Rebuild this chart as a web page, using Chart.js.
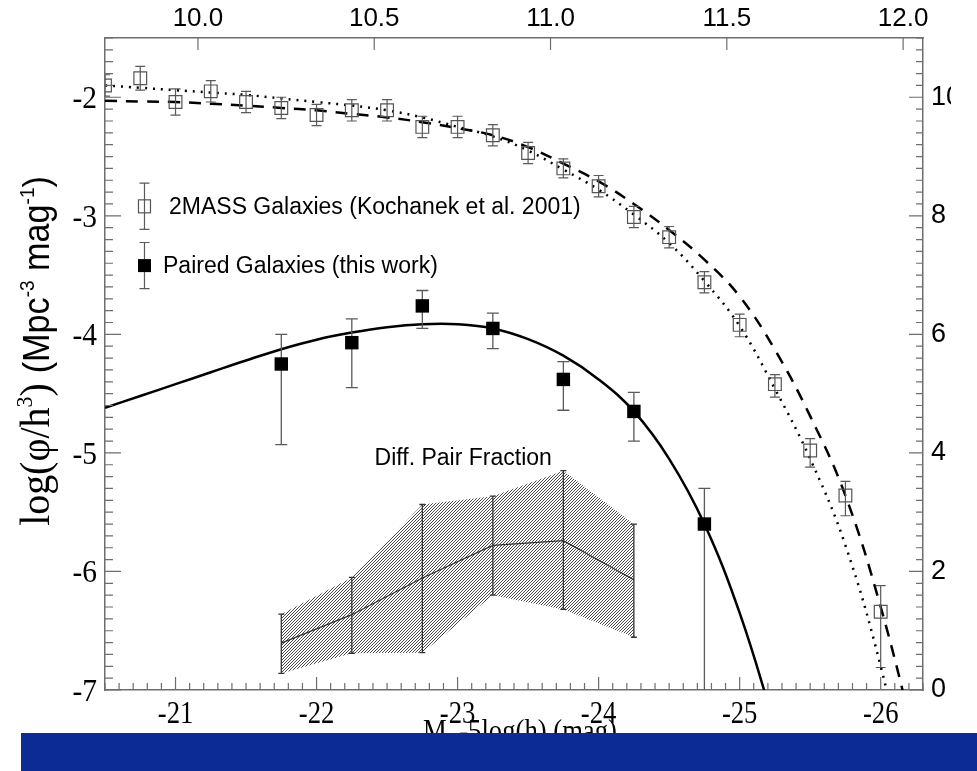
<!DOCTYPE html>
<html>
<head>
<meta charset="utf-8">
<script src="https://cdn.jsdelivr.net/npm/chart.js@4.4.0/dist/chart.umd.min.js"></script>
<style>
  html, body { margin: 0; padding: 0; background: #fff; }
  #wrap { position: absolute; left: 0; top: 0; width: 951px; height: 733px; }
  #band { position: absolute; left: 21px; top: 733px; width: 956px; height: 38px; background: #0d2b95; }
</style>
</head>
<body>
<div id="wrap"><canvas id="lf"></canvas></div>
<div id="band"></div>
<script>
// K-band luminosity function of 2MASS galaxies (Kochanek et al. 2001)
const kMags = [-20.5, -20.75, -21.0, -21.25, -21.5, -21.75, -22.0, -22.25, -22.5, -22.75, -23.0, -23.25,
  -23.5, -23.75, -24.0, -24.25, -24.5, -24.75, -25.0, -25.25, -25.5, -25.75, -26.0];
const kPhi = [-1.90, -1.84, -2.04, -1.95, -2.04, -2.09, -2.15, -2.11, -2.11, -2.25, -2.25, -2.32,
  -2.47, -2.60, -2.75, -3.01, -3.18, -3.56, -3.92, -4.42, -4.98, -5.36, -6.34];
const kErrUp = [0.09, 0.10, 0.11, 0.09, 0.09, 0.09, 0.09, 0.09, 0.09, 0.09, 0.09, 0.09,
  0.09, 0.08, 0.09, 0.09, 0.09, 0.09, 0.09, 0.08, 0.10, 0.12, 0.22];
const kErrDown = [0.09, 0.10, 0.11, 0.09, 0.09, 0.09, 0.09, 0.09, 0.09, 0.09, 0.09, 0.09,
  0.09, 0.08, 0.09, 0.09, 0.09, 0.09, 0.10, 0.11, 0.14, 0.17, 0.47];

// paired galaxies
const pairMags = [-21.75, -22.25, -22.75, -23.25, -23.75, -24.25, -24.75];
const pairPhi = [-4.25, -4.07, -3.76, -3.95, -4.38, -4.65, -5.60];
const pairErrUp = [0.25, 0.20, 0.13, 0.13, 0.15, 0.16, 0.30];
const pairErrDown = [0.68, 0.38, 0.19, 0.17, 0.26, 0.25, 1.60];

// Schechter fits, sampled every 0.25 mag
const fitMags = [-20.5, -20.75, -21.0, -21.25, -21.5, -21.75, -22.0, -22.25, -22.5, -22.75, -23.0, -23.25,
  -23.5, -23.75, -24.0, -24.25, -24.5, -24.75, -25.0, -25.25, -25.5, -25.75, -26.0, -26.25];
const fitDotted = [-1.90, -1.92, -1.94, -1.96, -1.98, -2.01, -2.04, -2.07, -2.11, -2.17, -2.25, -2.33,
  -2.45, -2.61, -2.78, -2.99, -3.23, -3.55, -3.93, -4.46, -5.05, -5.78, -6.80, -8.10];
const fitDashed = [-2.03, -2.035, -2.04, -2.055, -2.07, -2.09, -2.11, -2.14, -2.17, -2.21, -2.26, -2.32,
  -2.42, -2.56, -2.71, -2.90, -3.12, -3.37, -3.68, -4.13, -4.69, -5.36, -6.30, -7.45];
const pairFitMags = [-20.5, -20.75, -21.0, -21.25, -21.5, -21.75, -22.0, -22.25, -22.5, -22.75, -23.0,
  -23.25, -23.5, -23.75, -24.0, -24.25, -24.5, -24.75, -25.0, -25.25];
const pairFit = [-4.62, -4.52, -4.42, -4.32, -4.22, -4.125, -4.045, -3.985, -3.94, -3.915, -3.915,
  -3.95, -4.04, -4.18, -4.38, -4.65, -5.05, -5.60, -6.35, -7.30];

// differential pair fraction (%), right axis
const fracMags = [-21.75, -22.25, -22.75, -23.25, -23.75, -24.25];
const fracMid = [0.79, 1.27, 1.89, 2.44, 2.52, 1.86];
const fracHigh = [1.28, 1.90, 3.13, 3.27, 3.70, 2.80];
const fracLow = [0.28, 0.62, 0.63, 1.60, 1.36, 0.89];

// axis ticks
const magTicks = [-21, -22, -23, -24, -25, -26];
const phiTicks = [-7, -6, -5, -4, -3, -2];
const massTicks = [10.0, 10.5, 11.0, 11.5, 12.0];
const fracTicks = [0, 2, 4, 6, 8, 10];

const magMin = -26.3, magMax = -20.5;
const massZero = 1.5364;            // log M = massZero - 0.4 M_K
const frameColor = '#6e6e6e';
const serif = '"Liberation Serif", "DejaVu Serif", serif';
const sans = '"Liberation Sans", Arial, sans-serif';

const pts = (xs, ys) => xs.map((x, i) => ({x, y: ys[i]}));

function hatchPattern() {
  const c = document.createElement('canvas');
  c.width = 3; c.height = 3;
  const g = c.getContext('2d');
  g.strokeStyle = '#4a4a4a';
  g.lineWidth = 1;
  g.beginPath();
  g.moveTo(0, 3); g.lineTo(3, 0);
  g.moveTo(-1, 1); g.lineTo(1, -1);
  g.moveTo(2, 4); g.lineTo(4, 2);
  g.stroke();
  return g.createPattern(c, 'repeat');
}

// vertical bars drawn just under each dataset's own markers
const errorBars = {
  id: 'errorBars',
  beforeDatasetDraw(chart, args) {
    const ds = chart.data.datasets[args.index];
    if (!ds.errHi) return;
    const {ctx, chartArea: a} = chart;
    const ys = chart.scales[args.meta.yAxisID];
    ctx.save();
    ctx.beginPath();
    ctx.rect(a.left, a.top, a.right - a.left, a.bottom - a.top);
    ctx.clip();
    ctx.strokeStyle = ds.errColor;
    ctx.lineWidth = ds.errWidth;
    args.meta.data.forEach((p, j) => {
      const hi = ys.getPixelForValue(ds.errHi[j]);
      const lo = ys.getPixelForValue(ds.errLo[j]);
      ctx.beginPath();
      ctx.moveTo(p.x, hi); ctx.lineTo(p.x, lo);
      ctx.moveTo(p.x - ds.errCap, hi); ctx.lineTo(p.x + ds.errCap, hi);
      ctx.moveTo(p.x - ds.errCap, lo); ctx.lineTo(p.x + ds.errCap, lo);
      ctx.stroke();
    });
    ctx.restore();
  }
};

// inward tick marks on all four sides
const tickSpec = {
  x: {minor: 0.1, major: 1, short: 7, long: 13},
  y: {minor: 0.1, major: 1, short: 8, long: 16},
  xTop: {minor: 0.5, major: 0.5, short: 12, long: 12},
  yR: {minor: 0.2, major: 2, short: 7, long: 14}
};
const innerTicks = {
  id: 'innerTicks',
  afterDraw(chart) {
    const {ctx, chartArea: a} = chart;
    ctx.save();
    ctx.strokeStyle = frameColor;
    ctx.lineWidth = 1.2;
    for (const id in tickSpec) {
      const s = chart.scales[id], t = tickSpec[id];
      const n0 = Math.ceil(s.min / t.minor - 1e-6), n1 = Math.floor(s.max / t.minor + 1e-6);
      ctx.beginPath();
      for (let n = n0; n <= n1; n++) {
        const v = n * t.minor;
        const q = v / t.major;
        const len = Math.abs(q - Math.round(q)) < 1e-6 ? t.long : t.short;
        const px = s.getPixelForValue(v);
        if (id === 'x') { ctx.moveTo(px, a.bottom); ctx.lineTo(px, a.bottom - len); }
        if (id === 'xTop') { ctx.moveTo(px, a.top); ctx.lineTo(px, a.top + len); }
        if (id === 'y') { ctx.moveTo(a.left, px); ctx.lineTo(a.left + len, px); }
        if (id === 'yR') { ctx.moveTo(a.right, px); ctx.lineTo(a.right - len, px); }
      }
      ctx.stroke();
    }
    ctx.restore();
  }
};

// text runs with their own fonts, centred on cx; sx squeezes them horizontally
function drawRuns(ctx, runs, cx, y, sx = 1) {
  let total = 0;
  runs.forEach(r => { ctx.font = r.font; r.w = ctx.measureText(r.t).width; total += r.w; });
  ctx.save();
  ctx.translate(cx, y);
  ctx.scale(sx, 1);
  let x = -total / 2;
  runs.forEach(r => { ctx.font = r.font; ctx.fillText(r.t, x, r.dy || 0); x += r.w; });
  ctx.restore();
}

function squeezedText(ctx, t, x, y, sx, align) {
  ctx.save();
  ctx.translate(x, y);
  ctx.scale(sx, 1);
  ctx.textAlign = align;
  ctx.fillText(t, 0, 0);
  ctx.restore();
}

// Times-style tick labels, axis titles, legend and the band label
const annotations = {
  id: 'annotations',
  afterDraw(chart) {
    const {ctx, chartArea: a} = chart;
    const xs = chart.scales.x, ys = chart.scales.y, yr = chart.scales.yR;
    ctx.save();
    ctx.fillStyle = '#000';
    ctx.textBaseline = 'alphabetic';
    ctx.textAlign = 'left';

    ctx.font = '31px ' + serif;
    magTicks.forEach(v => squeezedText(ctx, String(v), xs.getPixelForValue(v), a.bottom + 33, 0.86, 'center'));
    phiTicks.forEach(v => squeezedText(ctx, String(v), a.left - 8, ys.getPixelForValue(v) + 11, 0.95, 'right'));

    // left title
    ctx.save();
    ctx.translate(49, 351);
    ctx.rotate(-Math.PI / 2);
    drawRuns(ctx, [
      {t: 'log(\u03c6/h', font: '42px ' + serif},
      {t: '3', font: '23px ' + serif, dy: -17},
      {t: ') ', font: '42px ' + serif},
      {t: '(Mpc', font: '36px ' + sans},
      {t: '-3', font: '20px ' + sans, dy: -15},
      {t: ' mag', font: '36px ' + sans},
      {t: '-1', font: '20px ' + sans, dy: -15},
      {t: ')', font: '36px ' + sans}
    ], 0, 0, 0.95);
    ctx.restore();

    // bottom title (cut by the blue strip below the canvas)
    drawRuns(ctx, [
      {t: 'M', font: '31px ' + serif},
      {t: 'K', font: '20px ' + serif, dy: 6},
      {t: '-5log(h) (mag)', font: '31px ' + serif}
    ], 520, 741, 0.86);

    // legend
    const lx = xs.getPixelForValue(-20.78);
    const rows = [
      {y: -2.92, open: true, text: '2MASS Galaxies (Kochanek et al. 2001)', tx: 169},
      {y: -3.42, open: false, text: 'Paired Galaxies (this work)', tx: 163}
    ];
    rows.forEach(r => {
      const py = ys.getPixelForValue(r.y);
      const hi = ys.getPixelForValue(r.y + 0.195), lo = ys.getPixelForValue(r.y - 0.195);
      ctx.strokeStyle = '#5a5a5a';
      ctx.lineWidth = 1.2;
      ctx.beginPath();
      ctx.moveTo(lx, hi); ctx.lineTo(lx, lo);
      ctx.moveTo(lx - 5, hi); ctx.lineTo(lx + 5, hi);
      ctx.moveTo(lx - 5, lo); ctx.lineTo(lx + 5, lo);
      ctx.stroke();
      if (r.open) {
        ctx.strokeStyle = '#555';
        ctx.strokeRect(lx - 6, py - 6.5, 12, 13);
      } else {
        ctx.fillStyle = '#000';
        ctx.fillRect(lx - 6.5, py - 6.5, 13, 13);
      }
      ctx.fillStyle = '#000';
      ctx.font = '23px ' + sans;
      ctx.textBaseline = 'middle';
      ctx.textAlign = 'left';
      ctx.fillText(r.text, r.tx, py + 1);
    });

    // band label
    ctx.textAlign = 'center';
    ctx.font = '23px ' + sans;
    ctx.fillText('Diff. Pair Fraction', xs.getPixelForValue(-23.04), yr.getPixelForValue(3.9));
    ctx.restore();
  }
};

Chart.defaults.font.family = sans;

const lineFit = {showLine: true, pointRadius: 0, borderColor: '#000', borderWidth: 2.5, tension: 0.4, clip: 0};

new Chart(document.getElementById('lf'), {
  type: 'scatter',
  data: {
    datasets: [
      {
        label: 'Paired Galaxies (this work)',
        data: pts(pairMags, pairPhi),
        pointStyle: 'rect', pointRadius: 9.5,
        backgroundColor: '#000', borderColor: '#000', borderWidth: 0,
        errHi: pairPhi.map((v, i) => v + pairErrUp[i]),
        errLo: pairPhi.map((v, i) => v - pairErrDown[i]),
        errColor: '#5a5a5a', errWidth: 1.3, errCap: 6, clip: 0
      },
      {
        label: '2MASS Galaxies (Kochanek et al. 2001)',
        data: pts(kMags, kPhi),
        pointStyle: 'rect', pointRadius: 9,
        backgroundColor: 'rgba(0,0,0,0)', borderColor: '#555', borderWidth: 1.2,
        errHi: kPhi.map((v, i) => v + kErrUp[i]),
        errLo: kPhi.map((v, i) => v - kErrDown[i]),
        errColor: '#5a5a5a', errWidth: 1.2, errCap: 5, clip: 0
      },
      {label: 'pair fit', data: pts(pairFitMags, pairFit), ...lineFit},
      {label: '2MASS fit (dashed)', data: pts(fitMags, fitDashed), ...lineFit, borderDash: [12, 9]},
      {label: '2MASS fit (dotted)', data: pts(fitMags, fitDotted), ...lineFit, borderDash: [2, 6]},
      {
        label: 'pair fraction',
        data: pts(fracMags, fracMid), yAxisID: 'yR',
        showLine: true, pointRadius: 0, borderColor: '#333', borderWidth: 1.3,
        errHi: fracHigh, errLo: fracLow, errColor: '#333', errWidth: 1.3, errCap: 3, clip: 0
      },
      {
        label: 'pair fraction high',
        data: pts(fracMags, fracHigh), yAxisID: 'yR',
        showLine: true, pointRadius: 0, borderWidth: 0, borderColor: 'rgba(0,0,0,0)',
        fill: '+1', backgroundColor: hatchPattern(), clip: 0
      },
      {
        label: 'pair fraction low',
        data: pts(fracMags, fracLow), yAxisID: 'yR',
        showLine: true, pointRadius: 0, borderWidth: 0, borderColor: 'rgba(0,0,0,0)', clip: 0
      }
    ]
  },
  options: {
    responsive: true,
    maintainAspectRatio: false,
    animation: false,
    events: [],
    devicePixelRatio: 1,
    layout: {padding: 0, autoPadding: false},
    plugins: {legend: {display: false}, tooltip: {enabled: false}},
    scales: {
      x: {
        type: 'linear', position: 'bottom', min: magMin, max: magMax, reverse: true,
        afterBuildTicks: s => { s.ticks = magTicks.map(v => ({value: v})); },
        afterFit: s => { s.height = 43; },
        grid: {display: false, drawTicks: false},
        border: {display: true, color: frameColor, width: 1.5},
        ticks: {display: false}
      },
      xTop: {
        type: 'linear', position: 'top',
        min: massZero - 0.4 * magMax, max: massZero - 0.4 * magMin,
        afterBuildTicks: s => { s.ticks = massTicks.map(v => ({value: v})); },
        afterFit: s => { s.height = 38; },
        grid: {display: false, drawTicks: false},
        border: {display: true, color: frameColor, width: 1.5},
        ticks: {font: {family: sans, size: 26}, color: '#000', padding: 4, maxRotation: 0, autoSkip: false,
          callback: v => v.toFixed(1)}
      },
      y: {
        type: 'linear', position: 'left', min: -7, max: -1.5,
        afterBuildTicks: s => { s.ticks = phiTicks.map(v => ({value: v})); },
        afterFit: s => { s.width = 105; },
        grid: {display: false, drawTicks: false},
        border: {display: true, color: frameColor, width: 1.5},
        ticks: {display: false}
      },
      yR: {
        type: 'linear', position: 'right', min: 0, max: 11,
        afterBuildTicks: s => { s.ticks = fracTicks.map(v => ({value: v})); },
        afterFit: s => { s.width = 28; },
        grid: {display: false, drawTicks: false},
        border: {display: true, color: frameColor, width: 1.5},
        ticks: {font: {family: sans, size: 27}, color: '#000', padding: 8, autoSkip: false,
          callback: v => String(v)}
      }
    }
  },
  plugins: [errorBars, innerTicks, annotations]
});
</script>
</body>
</html>
